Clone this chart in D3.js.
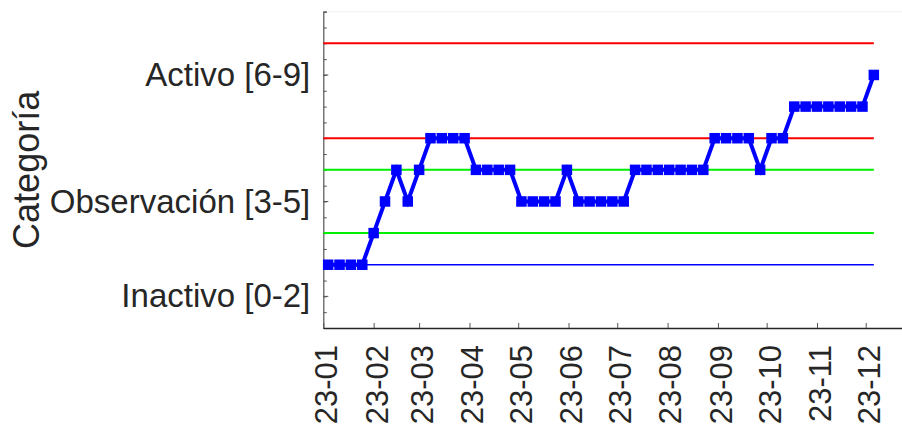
<!DOCTYPE html>
<html>
<head>
<meta charset="utf-8">
<script src="https://cdn.jsdelivr.net/npm/d3@7"></script>
<style>
  html, body { margin: 0; padding: 0; background: #fff; }
  svg { display: block; }
</style>
</head>
<body>
<svg id="chart" width="902" height="429"></svg>
<script>
// ---------------- DATA ----------------
const dates = [
  "2023-01-04","2023-01-11","2023-01-18","2023-01-25",
  "2023-02-01","2023-02-08","2023-02-15","2023-02-22",
  "2023-03-01","2023-03-08","2023-03-15","2023-03-22","2023-03-29",
  "2023-04-05","2023-04-12","2023-04-19","2023-04-26",
  "2023-05-03","2023-05-10","2023-05-17","2023-05-24","2023-05-31",
  "2023-06-07","2023-06-14","2023-06-21","2023-06-28",
  "2023-07-05","2023-07-12","2023-07-19","2023-07-26",
  "2023-08-02","2023-08-09","2023-08-16","2023-08-23","2023-08-30",
  "2023-09-06","2023-09-13","2023-09-20","2023-09-27",
  "2023-10-04","2023-10-11","2023-10-18","2023-10-25",
  "2023-11-01","2023-11-08","2023-11-15","2023-11-22","2023-11-29",
  "2023-12-06"
];
const values = [
  2,2,2,2,
  3,4,5,4,
  5,6,6,6,6,
  5,5,5,5,
  4,4,4,4,5,
  4,4,4,4,
  4,5,5,5,
  5,5,5,5,6,
  6,6,6,5,
  6,6,7,7,
  7,7,7,7,7,
  8
];
const thresholdValues = [9, 6, 5, 3, 2];
const categoryLabels = ["Inactivo [0-2]", "Observación [3-5]", "Activo [6-9]"];
const categoryTicks = [1, 4, 8];
const monthTicks = ["2023-01-01","2023-02-01","2023-03-01","2023-04-01","2023-05-01","2023-06-01",
                    "2023-07-01","2023-08-01","2023-09-01","2023-10-01","2023-11-01","2023-12-01"];
const yMinorTicks = [0,0.5,1,1.5,2,2.5,3,3.5,4,4.5,5,5.5,6,6.5,7,7.5,8,8.5,9,9.5,10];
const yDomain = [0, 10];
const xDomain = ["2023-01-01", "2023-12-31"];
const yTitle = "Categoría";

// ---------------- STYLE ----------------
const thresholdColors = ["#ff0000", "#ff0000", "#00ee00", "#00ee00", "#0000ff"];
const thresholdWidths = [2, 2, 2, 2, 1.5];
const textColor = "#262626";
const font = "'Liberation Sans', Arial, Helvetica, sans-serif";

// ---------------- LAYOUT ----------------
const mLeft = 323.3, mTop = 11.7, mBottom = 328;
const pxPerDay = 1.624;
const parse = d3.timeParse("%Y-%m-%d");
const x0 = parse(xDomain[0]), x1 = parse(xDomain[1]);
const xRight = mLeft + (x1 - x0) / 864e5 * pxPerDay;

const x = d3.scaleTime().domain([x0, x1]).range([mLeft, xRight]);
const y = d3.scaleLinear().domain(yDomain).range([mBottom, mTop]);

const svg = d3.select("#chart");

// top faint frame line
svg.append("line")
  .attr("x1", mLeft).attr("x2", 902).attr("y1", mTop).attr("y2", mTop)
  .attr("stroke", "#f0f0f0").attr("stroke-width", 1);

// Y axis (minor ticks, inward)
const yAxisMinor = d3.axisRight(y).tickValues(yMinorTicks).tickSize(3.5).tickFormat("");
const gyMinor = svg.append("g").attr("transform", `translate(${mLeft},0)`).call(yAxisMinor);
gyMinor.select(".domain").attr("stroke", "#555").attr("stroke-width", 1.2);
gyMinor.selectAll(".tick line").attr("stroke", "#555").attr("stroke-width", 1);

// Y category labels
const yAxisMajor = d3.axisLeft(y).tickValues(categoryTicks)
  .tickFormat((d, i) => categoryLabels[i]).tickSize(0).tickPadding(13);
const gy = svg.append("g").attr("transform", `translate(${mLeft},0)`).call(yAxisMajor);
gy.select(".domain").remove();
gy.selectAll(".tick text")
  .attr("font-family", font).attr("font-size", 33).attr("fill", textColor);
// major ticks inward slightly longer
svg.append("g").selectAll("line").data(categoryTicks).join("line")
  .attr("x1", mLeft).attr("x2", mLeft + 5)
  .attr("y1", d => y(d)).attr("y2", d => y(d))
  .attr("stroke", "#555").attr("stroke-width", 1);

// X axis
const xAxis = d3.axisBottom(x).tickValues(monthTicks.map(parse))
  .tickFormat(d3.timeFormat("%y-%m")).tickSize(0).tickPadding(0);
const gx = svg.append("g").attr("transform", `translate(0,${mBottom})`).call(xAxis);
gx.select(".domain").attr("stroke", "#262626").attr("stroke-width", 1.6);
gx.selectAll(".tick text")
  .attr("font-family", font).attr("font-size", 31).attr("fill", textColor)
  .attr("text-anchor", "end")
  .attr("transform", "translate(2.5,17) rotate(-90)")
  .attr("dx", 0).attr("dy", "0.35em").attr("y", 0).attr("x", 0);
gx.selectAll(".tick").append("line")
  .attr("y1", 0).attr("y2", -5).attr("stroke", "#555").attr("stroke-width", 1);

// Y title
svg.append("text")
  .attr("transform", `translate(38.5,${(mTop + mBottom) / 2}) rotate(-90)`)
  .attr("text-anchor", "middle")
  .attr("font-family", font).attr("font-size", 36).attr("fill", textColor)
  .text(yTitle);

// threshold lines
const lastDate = parse(dates[dates.length - 1]);
svg.append("g").selectAll("line").data(thresholdValues).join("line")
  .attr("x1", x(x0)).attr("x2", x(lastDate))
  .attr("y1", d => y(d)).attr("y2", d => y(d))
  .attr("stroke", (d, i) => thresholdColors[i])
  .attr("stroke-width", (d, i) => thresholdWidths[i]);

// data line
const pts = dates.map((d, i) => ({ date: parse(d), v: values[i] }));
svg.append("path").datum(pts)
  .attr("fill", "none").attr("stroke", "#0000ff").attr("stroke-width", 4)
  .attr("stroke-linejoin", "miter")
  .attr("d", d3.line().x(d => x(d.date)).y(d => y(d.v)));

// markers
const ms = 10.5;
svg.append("g").selectAll("rect").data(pts).join("rect")
  .attr("x", d => x(d.date) - ms / 2).attr("y", d => y(d.v) - ms / 2)
  .attr("width", ms).attr("height", ms)
  .attr("fill", "#0000ff");
</script>
</body>
</html>
